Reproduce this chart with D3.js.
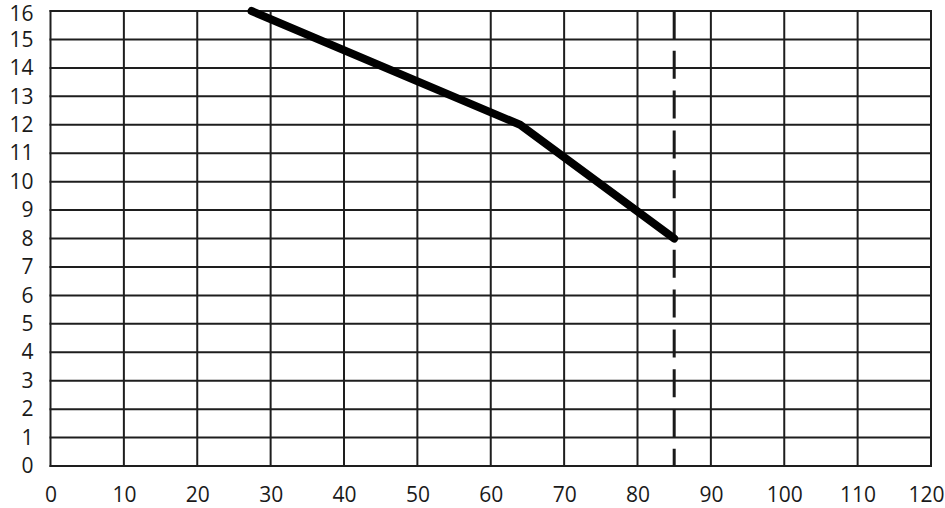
<!DOCTYPE html>
<html>
<head>
<meta charset="utf-8">
<script src="https://cdn.jsdelivr.net/npm/d3@7"></script>
<style>
  html, body { margin: 0; padding: 0; background: #fff; }
  svg text { font-family: "Open Sans", "Noto Sans", sans-serif; fill: #1a1a1a; }
</style>
</head>
<body>
<svg id="chart" width="945" height="508"></svg>
<script>
// Data
const xTicks = [0, 10, 20, 30, 40, 50, 60, 70, 80, 90, 100, 110, 120];
const yTicks = [0, 1, 2, 3, 4, 5, 6, 7, 8, 9, 10, 11, 12, 13, 14, 15, 16];
const curveX = [27.4, 64, 85];
const curveY = [16, 12, 8];
const limitX = [85];

const margin = { left: 50.5, right: 14, top: 11, bottom: 42 };
const W = 945, H = 508;
const svg = d3.select("#chart");

const x = d3.scaleLinear().domain([0, 120]).range([margin.left, W - margin.right]);
const y = d3.scaleLinear().domain([0, 16]).range([H - margin.bottom, margin.top]);

const gridColor = "#1e1e1e";

// Grid
svg.append("g").selectAll("line.v").data(xTicks).join("line")
  .attr("x1", d => x(d)).attr("x2", d => x(d))
  .attr("y1", y(0) + 1).attr("y2", y(16) - 1)
  .attr("stroke", gridColor).attr("stroke-width", 2);
svg.append("g").selectAll("line.h").data(yTicks).join("line")
  .attr("x1", x(0) - 1).attr("x2", x(120) + 1)
  .attr("y1", d => y(d)).attr("y2", d => y(d))
  .attr("stroke", gridColor).attr("stroke-width", 2);

// Axes labels
const xAxis = d3.axisBottom(x).tickValues(xTicks).tickSize(0).tickPadding(21);
const gx = svg.append("g").attr("transform", `translate(0,${y(0)})`).call(xAxis);
gx.select(".domain").remove();
gx.selectAll("text").style("font-size", "21px").style("font-family", '"Open Sans", sans-serif').attr("fill", "#1a1a1a");
// keep the last label inside the page
gx.selectAll(".tick").filter(d => d === 120).select("text")
  .attr("text-anchor", "end").attr("x", W - 1 - x(120));

const yAxis = d3.axisLeft(y).tickValues(yTicks).tickSize(0).tickPadding(17);
const gy = svg.append("g").attr("transform", `translate(${x(0)},0)`).call(yAxis);
gy.select(".domain").remove();
gy.selectAll("text").style("font-size", "21px").style("font-family", '"Open Sans", sans-serif').attr("fill", "#1a1a1a");
gy.selectAll(".tick").filter(d => d === 16).select("text").attr("y", 3);

// Dashed limit line
svg.append("g").selectAll("line").data(limitX).join("line")
  .attr("x1", d => x(d)).attr("x2", d => x(d))
  .attr("y1", y(16)).attr("y2", y(0))
  .attr("stroke", "#1a1a1a").attr("stroke-width", 3)
  .attr("stroke-dasharray", "28,11.8");

// Curve
const pts = curveX.map((v, i) => [v, curveY[i]]);
svg.append("path").datum(pts)
  .attr("d", d3.line().x(d => x(d[0])).y(d => y(d[1])))
  .attr("fill", "none").attr("stroke", "#000").attr("stroke-width", 8)
  .attr("stroke-linecap", "round").attr("stroke-linejoin", "round");
</script>
</body>
</html>
